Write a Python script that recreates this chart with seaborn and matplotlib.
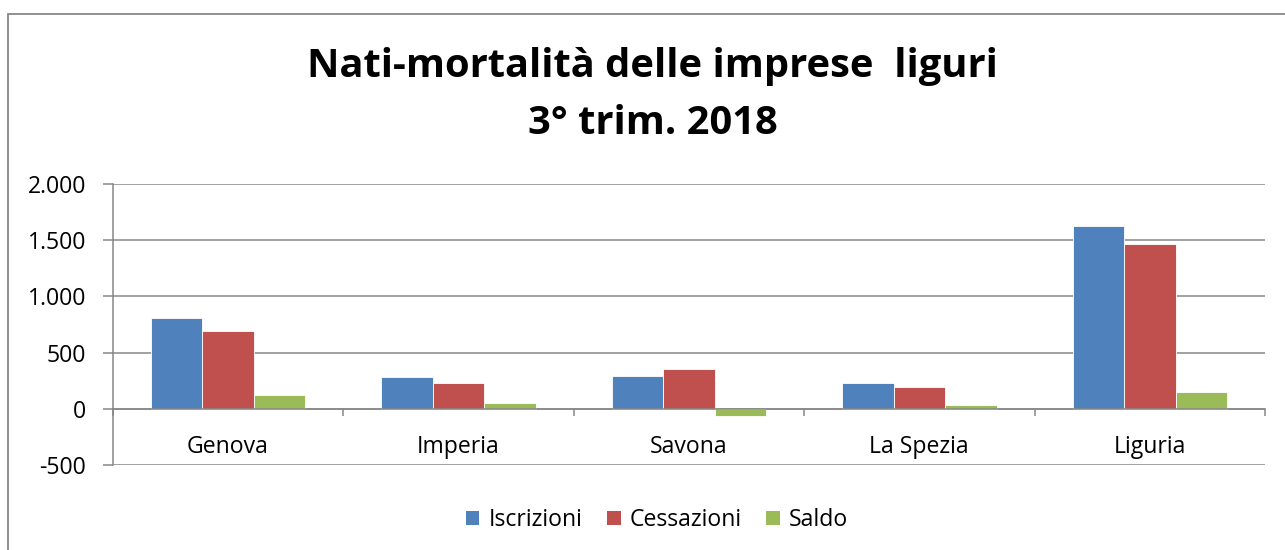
import matplotlib
matplotlib.use("Agg")
import matplotlib.pyplot as plt
import matplotlib.ticker as mticker
from matplotlib.patches import Rectangle, Patch
import seaborn as sns
import pandas as pd

# ---- data ----
categories = ["Genova", "Imperia", "Savona", "La Spezia", "Liguria"]
series_names = ["Iscrizioni", "Cessazioni", "Saldo"]
iscrizioni = [808, 280, 295, 230, 1622]
cessazioni = [688, 228, 357, 192, 1470]
saldo = [120, 52, -62, 38, 152]
colors = ["#4F81BD", "#C0504D", "#9BBB59"]
title_lines = ["Nati-mortalità delle imprese  liguri", "3° trim. 2018"]
y_ticks = [-500, 0, 500, 1000, 1500, 2000]

df = pd.DataFrame({
    "cat": categories * 3,
    "serie": [series_names[0]] * 5 + [series_names[1]] * 5 + [series_names[2]] * 5,
    "val": iscrizioni + cessazioni + saldo,
})

sns.set_style("white")
plt.rcParams["font.family"] = ["Open Sans", "DejaVu Sans"]
plt.rcParams["text.color"] = "black"

W, H = 1285, 550
fig = plt.figure(figsize=(W / 100, H / 100), dpi=100)
fig.patch.set_facecolor("white")

left_px, right_px, top_px, bot_px = 112.7, 1265, 184, 465
ax = fig.add_axes([left_px / W, 1 - bot_px / H, (right_px - left_px) / W, (bot_px - top_px) / H])

sns.barplot(data=df, x="cat", y="val", hue="serie", order=categories,
            hue_order=series_names, palette=colors, width=0.67, gap=0,
            saturation=1, ax=ax, legend=False, edgecolor="white", linewidth=0.6)

gray = "#878787"
ax.set_xlim(-0.5, 4.5)
ax.set_ylim(-500, 2000)
ax.set_yticks(y_ticks)
ax.yaxis.set_major_formatter(mticker.FuncFormatter(lambda v, p: f"{int(v):,}".replace(",", ".")))
ax.grid(axis="y", color=gray, linewidth=1.1)
ax.set_axisbelow(True)
ax.set_xlabel("")
ax.set_ylabel("")

for s in ["top", "right"]:
    ax.spines[s].set_visible(False)
ax.spines["left"].set_color(gray)
ax.spines["left"].set_linewidth(1.1)
ax.spines["bottom"].set_position(("data", 0))
ax.spines["bottom"].set_color(gray)
ax.spines["bottom"].set_linewidth(1.1)
ax.spines["bottom"].set_zorder(3)

ax.tick_params(axis="y", which="major", direction="out", length=7, width=1.1,
               color=gray, labelsize=16.6, pad=12, left=True, labelcolor="black")
ax.set_xticks(range(5))
ax.set_xticklabels(categories)
ax.set_xticks([i - 0.5 for i in range(6)], minor=True)
ax.tick_params(axis="x", which="major", length=0, labelsize=16.6, pad=19, labelcolor="black")
ax.tick_params(axis="x", which="minor", direction="out", length=5, width=1.1, color=gray, bottom=True)

# title
fig.text(652 / W, 1 - 67 / H, title_lines[0], ha="center", va="center",
         fontsize=28.7, fontweight="bold", color="black")
fig.text(653 / W, 1 - 124 / H, title_lines[1], ha="center", va="center",
         fontsize=28.7, fontweight="bold", color="black")

# legend
handles = [Patch(facecolor=c, edgecolor="none") for c in colors]
fig.legend(handles, series_names, loc="center", bbox_to_anchor=(657 / W, 1 - 520 / H),
           ncol=3, frameon=False, fontsize=16.6, handlelength=0.6, handleheight=0.6,
           handletextpad=0.4, columnspacing=1.05)

# chart border
fig.add_artist(Rectangle((8 / W, -0.1), 1.5, (H - 14) / H + 0.1, transform=fig.transFigure,
                         fill=False, edgecolor=gray, linewidth=1.3))

fig.savefig("out.png", dpi=100, facecolor="white")
